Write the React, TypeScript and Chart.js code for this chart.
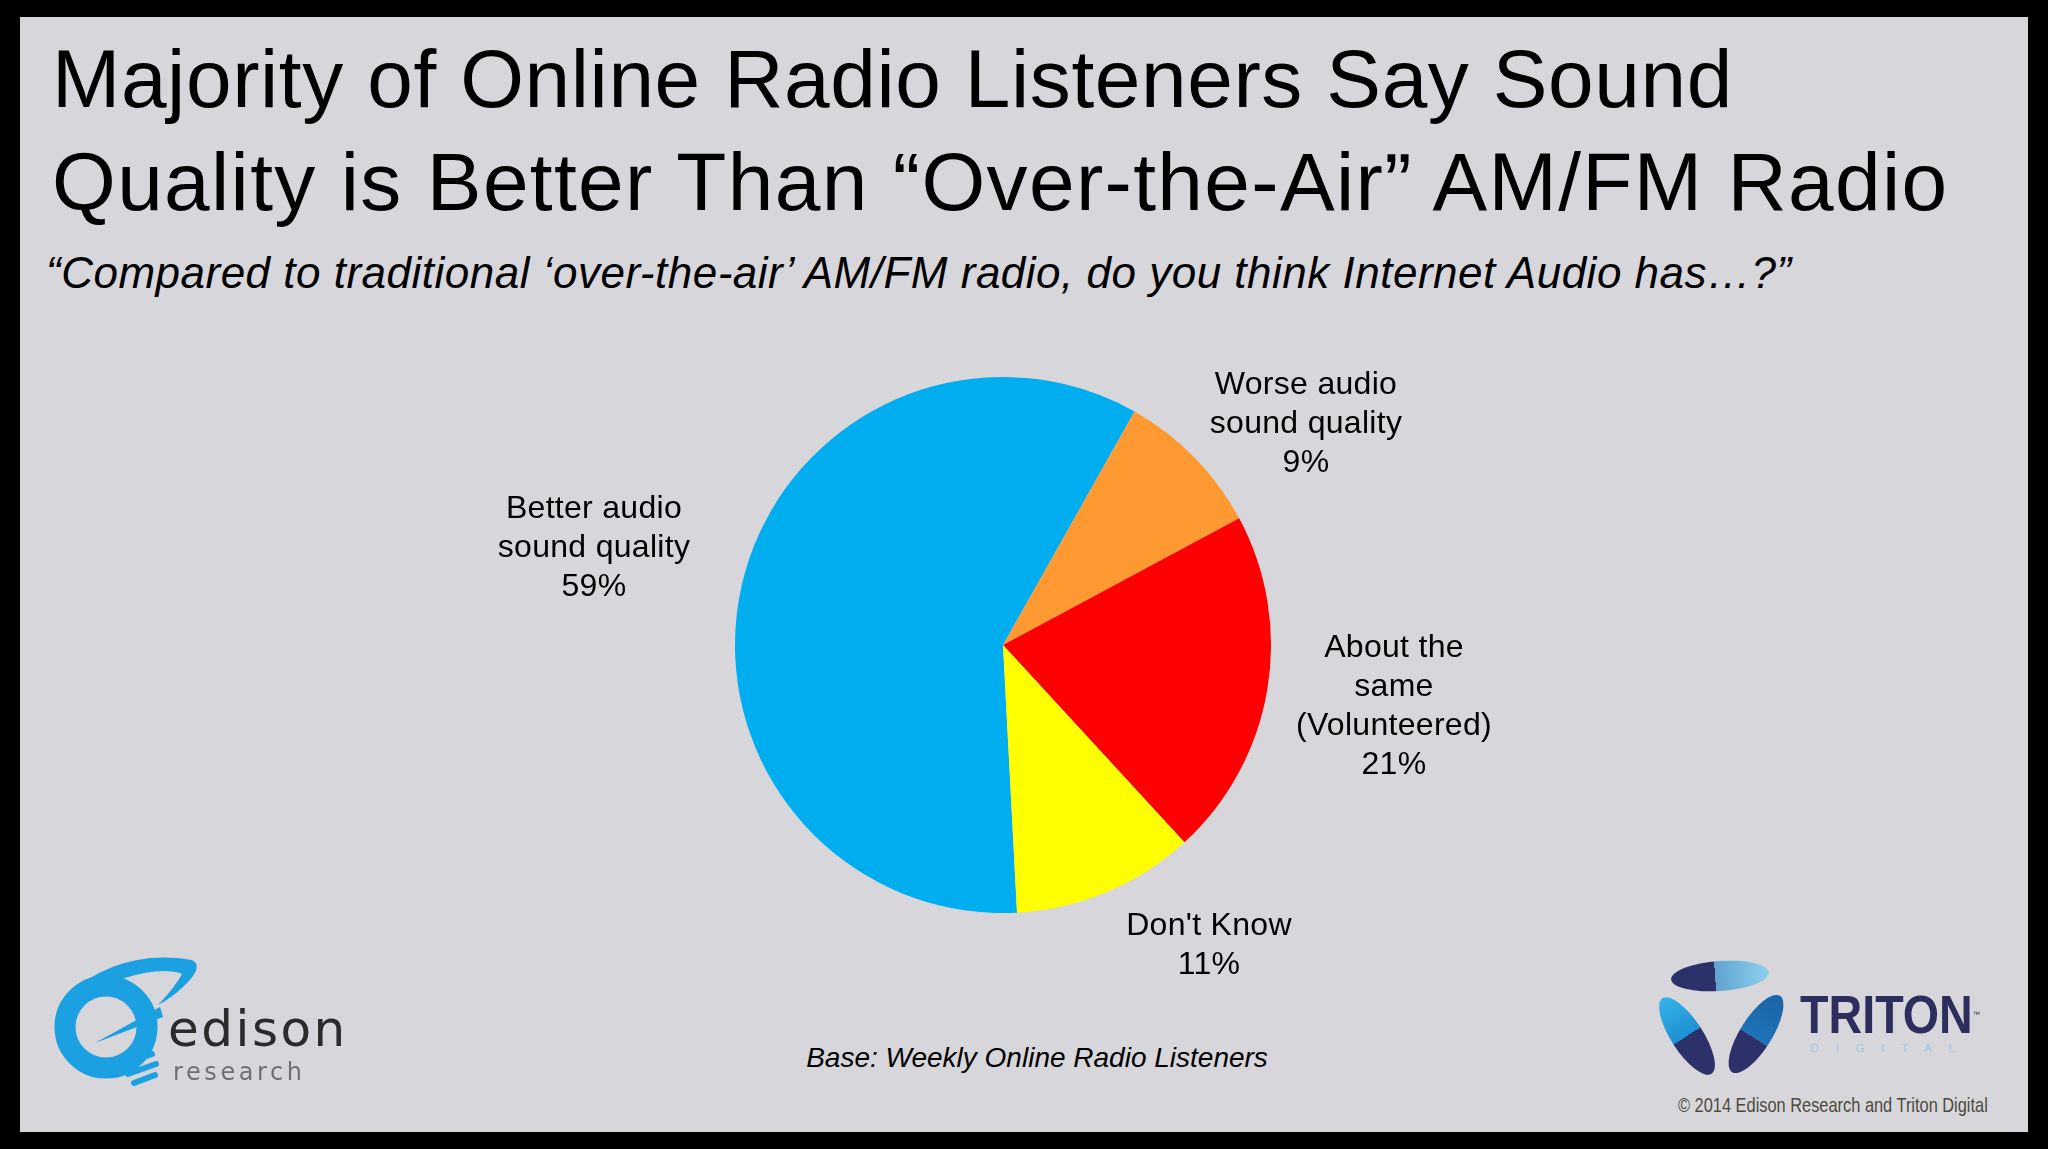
import React, { useEffect, useRef } from "react";
import { Chart, registerables } from "chart.js";

Chart.register(...registerables);

// ---- data ----
const categories = [
  "Better audio sound quality",
  "Worse audio sound quality",
  "About the same (Volunteered)",
  "Don't Know",
];
const values = [59, 9, 21, 11];
const labelLines = [
  ["Better audio", "sound quality"],
  ["Worse audio", "sound quality"],
  ["About the", "same", "(Volunteered)"],
  ["Don't Know"],
];
const sliceColors = ["#00aeef", "#ff9a33", "#ff0000", "#ffff00"];

const titleLines = [
  "Majority of Online Radio Listeners Say Sound",
  "Quality is Better Than \u201cOver-the-Air\u201d AM/FM Radio",
];
const subtitle =
  "\u201cCompared to traditional \u2018over-the-air\u2019 AM/FM radio, do you think Internet Audio has\u2026?\u201d";
const baseNote = "Base: Weekly Online Radio Listeners";
const copyright = "\u00a9 2014 Edison Research and Triton Digital";

// label placement (page coords: center x, top y)
const labelPos = [
  { x: 594, y: 488 },
  { x: 1306, y: 364 },
  { x: 1394, y: 627 },
  { x: 1209, y: 905 },
];
const titleSpacing = [0.6, 1.35];

const SANS = '"Liberation Sans", Arial, Helvetica, sans-serif';

function PieChart() {
  const ref = useRef<HTMLCanvasElement | null>(null);
  useEffect(() => {
    if (!ref.current) return;
    const chart = new Chart(ref.current, {
      type: "pie",
      data: {
        labels: categories,
        datasets: [
          {
            data: values,
            backgroundColor: sliceColors,
            borderWidth: 0,
            hoverOffset: 0,
            offset: 0,
          },
        ],
      },
      options: {
        responsive: false,
        animation: false,
        rotation: 177,
        radius: 268,
        layout: { padding: 0 },
        events: [],
        plugins: {
          legend: { display: false },
          tooltip: { enabled: false },
          title: { display: false },
        },
      },
    });
    return () => chart.destroy();
  }, []);
  return (
    <canvas
      ref={ref}
      width={600}
      height={600}
      style={{ position: "absolute", left: 703, top: 345, width: 600, height: 600 }}
    />
  );
}

function EdisonLogo() {
  const blue = "#1ba0e2";
  return (
    <>
      <svg
        width={2048}
        height={1149}
        style={{ position: "absolute", left: 0, top: 0, pointerEvents: "none" }}
      >
        {/* bulb ring */}
        <circle cx={106} cy={1027} r={41} fill="none" stroke={blue} strokeWidth={21} />
        {/* orbit crescent */}
        <path
          d="M 66 996 Q 120 948 192 960 Q 204 966 186 984 Q 172 998 158 1005 Q 176 986 182 974 Q 150 962 70 1000 Z"
          fill={blue}
        />
        {/* spike */}
        <polygon points="95,1043 160,1007 163,1017" fill={blue} />
        {/* screw base */}
        <line x1={124} y1={1064} x2={152} y2={1054} stroke={blue} strokeWidth={6} strokeLinecap="round" />
        <line x1={128} y1={1074} x2={156} y2={1064} stroke={blue} strokeWidth={6} strokeLinecap="round" />
        <line x1={134} y1={1083} x2={155} y2={1075} stroke={blue} strokeWidth={6} strokeLinecap="round" />
        {/* triton blobs */}
        <defs>
          <linearGradient id="tTop" x1="0" y1="0" x2="1" y2="0">
            <stop offset="0.45" stopColor="#2c3169" />
            <stop offset="0.45" stopColor="#5fa3cf" />
            <stop offset="1" stopColor="#8fd0ee" />
          </linearGradient>
          <linearGradient id="tLeft" x1="0" y1="0" x2="1" y2="0">
            <stop offset="0" stopColor="#35b3ea" />
            <stop offset="0.5" stopColor="#1f8fd0" />
            <stop offset="0.5" stopColor="#2c3169" />
            <stop offset="1" stopColor="#2c3169" />
          </linearGradient>
          <linearGradient id="tRight" x1="0" y1="0" x2="1" y2="0">
            <stop offset="0" stopColor="#2c3169" />
            <stop offset="0.45" stopColor="#2c3169" />
            <stop offset="0.45" stopColor="#1f72b6" />
            <stop offset="1" stopColor="#1a65a8" />
          </linearGradient>
        </defs>
        <ellipse cx={1720} cy={976} rx={49} ry={15} transform="rotate(-4 1720 976)" fill="url(#tTop)" />
        <ellipse cx={1687} cy={1036} rx={45} ry={16} transform="rotate(57 1687 1036)" fill="url(#tLeft)" />
        <ellipse cx={1756} cy={1034} rx={45} ry={16} transform="rotate(-58 1756 1034)" fill="url(#tRight)" />
      </svg>
      <div
        style={{
          position: "absolute",
          left: 168,
          top: 1004,
          fontFamily: '"DejaVu Sans", sans-serif',
          fontSize: 50,
          lineHeight: "50px",
          letterSpacing: 2.5,
          color: "#2b2b2b",
          whiteSpace: "nowrap",
        }}
      >
        edison
      </div>
      <div
        style={{
          position: "absolute",
          left: 173,
          top: 1060,
          fontFamily: '"DejaVu Sans", sans-serif',
          fontSize: 24,
          lineHeight: "24px",
          letterSpacing: 3.6,
          color: "#707070",
          whiteSpace: "nowrap",
        }}
      >
        research
      </div>
    </>
  );
}

function TritonText() {
  return (
    <>
      <div
        style={{
          position: "absolute",
          left: 1800,
          top: 988,
          fontFamily: SANS,
          fontWeight: "bold",
          fontSize: 53,
          lineHeight: "53px",
          color: "#2e2e5e",
          transform: "scaleX(0.88)",
          transformOrigin: "left top",
          whiteSpace: "nowrap",
        }}
      >
        TRITON
        <span style={{ fontSize: 8, verticalAlign: "top", fontWeight: "normal" }}>{"\u2122"}</span>
      </div>
      <div
        style={{
          position: "absolute",
          left: 1811,
          top: 1043,
          fontFamily: SANS,
          fontSize: 11,
          lineHeight: "11px",
          letterSpacing: 17,
          color: "#9fc3df",
          whiteSpace: "nowrap",
        }}
      >
        DIGITAL
      </div>
    </>
  );
}

export default function App() {
  return (
    <div
      style={{
        position: "fixed",
        left: 0,
        top: 0,
        width: 2048,
        height: 1149,
        background: "#000",
        overflow: "hidden",
      }}
    >
      <div
        style={{
          position: "absolute",
          left: 20,
          top: 17,
          width: 2008,
          height: 1115,
          background: "#d7d6db",
        }}
      />
      {/* title */}
      <div
        style={{
          position: "absolute",
          left: 52,
          top: 27,
          fontFamily: SANS,
          fontSize: 82,
          lineHeight: "103px",
          color: "#000",
          whiteSpace: "nowrap",
        }}
      >
        {titleLines.map((t, i) => (
          <div key={i} style={{ letterSpacing: titleSpacing[i] }}>
            {t}
          </div>
        ))}
      </div>
      {/* subtitle */}
      <div
        style={{
          position: "absolute",
          left: 46,
          top: 251,
          fontFamily: SANS,
          fontStyle: "italic",
          fontSize: 44,
          lineHeight: "44px",
          letterSpacing: 0.5,
          color: "#000",
          whiteSpace: "nowrap",
        }}
      >
        {subtitle}
      </div>

      <PieChart />

      {/* slice labels */}
      {categories.map((c, i) => (
        <div
          key={c}
          style={{
            position: "absolute",
            left: labelPos[i].x - 200,
            top: labelPos[i].y,
            width: 400,
            textAlign: "center",
            fontFamily: SANS,
            fontSize: 32,
            lineHeight: "39px",
            letterSpacing: 0.3,
            color: "#000",
          }}
        >
          {labelLines[i].map((l, j) => (
            <div key={j}>{l}</div>
          ))}
          <div>{values[i]}%</div>
        </div>
      ))}

      {/* base note */}
      <div
        style={{
          position: "absolute",
          left: 1037 - 400,
          top: 1044,
          width: 800,
          textAlign: "center",
          fontFamily: SANS,
          fontStyle: "italic",
          fontSize: 28,
          lineHeight: "28px",
          color: "#000",
        }}
      >
        {baseNote}
      </div>

      {/* copyright */}
      <div
        style={{
          position: "absolute",
          left: 1678,
          top: 1094,
          fontFamily: SANS,
          fontSize: 21,
          lineHeight: "21px",
          color: "#4d4a3e",
          transform: "scaleX(0.78)",
          transformOrigin: "left top",
          whiteSpace: "nowrap",
        }}
      >
        {copyright}
      </div>

      <EdisonLogo />
      <TritonText />
    </div>
  );
}
